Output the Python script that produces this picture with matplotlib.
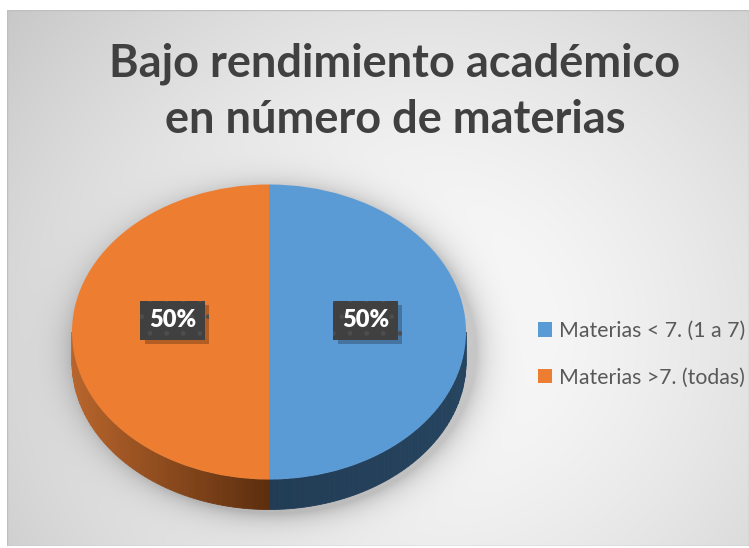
import numpy as np
import matplotlib
matplotlib.use("Agg")
import matplotlib.pyplot as plt
from matplotlib.patches import Polygon
import matplotlib.patheffects as pe

# ---- data ----
title = "Bajo rendimiento académico\nen número de materias"
categories = ["Materias < 7. (1 a 7)", "Materias >7. (todas)"]
values = [50, 50]
colors = ["#5B9BD5", "#ED7D31"]
side_light = ["#26445F", "#B8652C"]
side_dark = ["#223C55", "#5C2E0E"]

W, H = 749, 548
fig = plt.figure(figsize=(W / 100, H / 100), dpi=100)
fig.patch.set_facecolor("white")

# chart area background (radial gradient + soft pie shadow)
x0, y0t, x1, y1t = 7, 10, 749, 546
bg = fig.add_axes([x0 / W, (H - y1t) / H, (x1 - x0) / W, (y1t - y0t) / H])
yy, xx = np.mgrid[y0t:y1t, x0:x1].astype(float)
r = np.hypot(xx - 430, (yy - 330) * 1.05) / 520.0
v = 0.985 - 0.19 * np.clip(r, 0, 1.2) ** 1.5
# pie shadow
pcx, pcy, pa, pb = 275, 351, 201, 162
re = np.hypot((xx - pcx) / pa, (yy - pcy) / pb)
d = np.clip((re - 1) * pb, 0, None)
v = v - 0.2 * np.exp(-d / 12.0) * (re > 0.8)
img = np.dstack([v, v, v])
bg.imshow(np.clip(img, 0, 1), aspect="auto", extent=[0, 1, 0, 1], interpolation="bilinear")
bg.set_xlim(0, 1); bg.set_ylim(0, 1)
bg.axis("off")
bg.add_patch(plt.Rectangle((0, 0), 1, 1, transform=bg.transAxes, fill=False,
                           ec="#BFBFBF", lw=1.0))

# pie axes spanning the figure; 1 x-unit = rx px, 1 y-unit = ry px
cx_px, cy_px = 269, 332  # centre of top face (pixels from top)
rx, ry = 197.0, 147.5
depth = 30.0 / ry
ax = fig.add_axes([0, 0, 1, 1])
ax.patch.set_alpha(0)
wedges, _ = ax.pie(values, colors=colors, startangle=90, counterclock=False,
                   radius=1, center=(0, 0), wedgeprops=dict(linewidth=0))
ax.set_aspect("auto")
ax.set_xlim(-cx_px / rx, (W - cx_px) / rx)
ax.set_ylim(-(H - cy_px) / ry, cy_px / ry)
ax.axis("off")

# 3D side walls for the visible front half (angles -180..0)
def visible_range(t1, t2):
    out = []
    for s in (-360, 0, 360):
        a, b = max(t1 + s, -180), min(t2 + s, 0)
        if b > a:
            out.append((a, b))
    return out

def mix(c1, c2, f):
    a = np.array(matplotlib.colors.to_rgb(c1)); b = np.array(matplotlib.colors.to_rgb(c2))
    return tuple(a + (b - a) * f)

for i, w in enumerate(wedges):
    for a, b in visible_range(w.theta1, w.theta2):
        n = 60
        ts = np.linspace(a, b, n + 1)
        for k in range(n):
            t = np.radians(np.linspace(ts[k], ts[k + 1], 4))
            top = np.column_stack([np.cos(t), np.sin(t)])
            bot = top - [0, depth]
            poly = np.vstack([top, bot[::-1]])
            tm = 0.5 * (ts[k] + ts[k + 1])
            f = 1 - abs(np.cos(np.radians(tm)))  # 0 at sides, 1 at front
            col = mix(side_light[i], side_dark[i], f)
            ax.add_patch(Polygon(poly, closed=True, fc=col, ec=col, lw=0.6, zorder=0.5))
for w in wedges:
    w.set_zorder(1)

# percentage labels
total = sum(values)
for w, val in zip(wedges, values):
    mid = np.radians(0.5 * (w.theta1 + w.theta2))
    lx, ly = 0.49 * np.cos(mid), 0.49 * np.sin(mid) + 0.08
    t = ax.text(lx, ly, f"{val / total * 100:.0f}%", ha="center", va="center",
                fontsize=17, fontweight="heavy", family="Lato", color="white",
                bbox=dict(boxstyle="square,pad=0.36", fc="#404040", ec="#4E4E4E", lw=0,
                          hatch="."),
                zorder=4)
    t.get_bbox_patch().set_path_effects([
        pe.SimplePatchShadow(offset=(3, -3), shadow_rgbFace="black", alpha=0.25),
        pe.Normal()])

# title
fig.text(395 / W, 1 - 92 / H, title, ha="center", va="center", fontsize=32.5,
         fontweight="bold", family="Lato", color="#404040", linespacing=1.42)

# legend at the right edge
leg = fig.legend(wedges, categories, loc="upper left", bbox_to_anchor=(538 / W, 1 - 321 / H),
                 frameon=False, prop=dict(family="Lato", size=15.3),
                 handlelength=0.66, handleheight=0.66, handletextpad=0.35,
                 labelspacing=1.25, borderpad=0, borderaxespad=0)
for t in leg.get_texts():
    t.set_color("#595959")

fig.savefig("out.png", dpi=100)
